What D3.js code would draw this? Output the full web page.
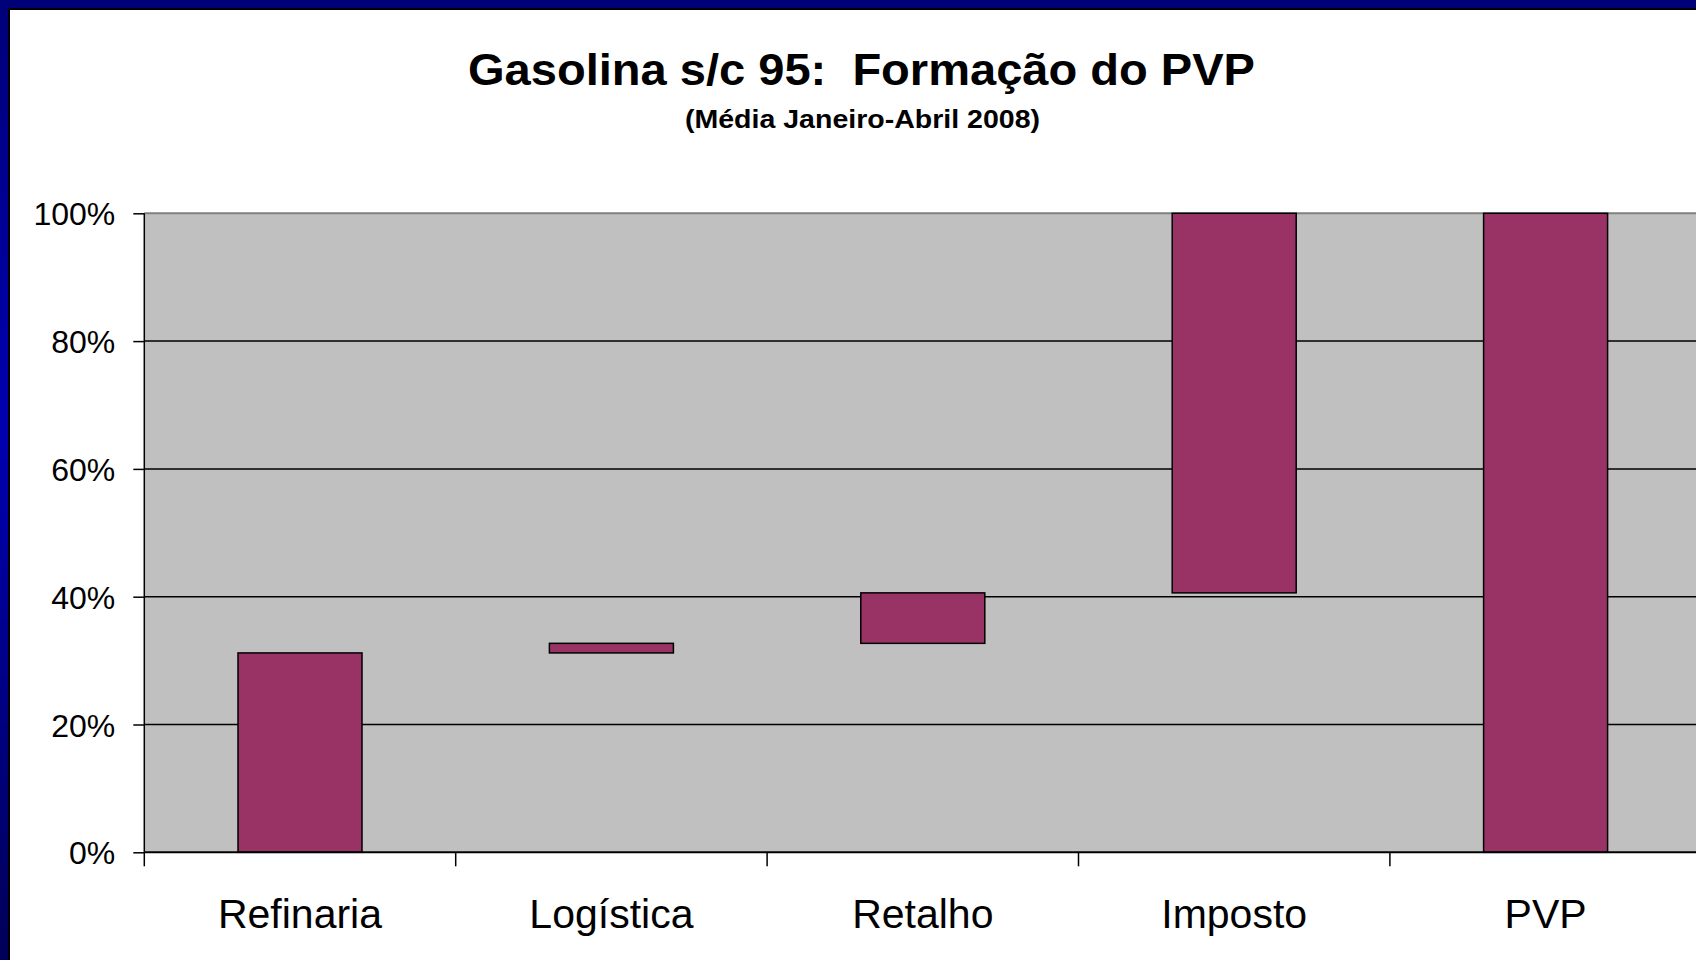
<!DOCTYPE html>
<html>
<head>
<meta charset="utf-8">
<script src="https://cdn.jsdelivr.net/npm/d3@7"></script>
<style>
  html, body { margin: 0; padding: 0; background: #fff; }
  svg { display: block; font-family: "Liberation Sans", Arial, sans-serif; }
  .title { white-space: pre; }
</style>
</head>
<body>
<div class="cont"></div>
<script>
// data
var categories = ["Refinaria", "Logística", "Retalho", "Imposto", "PVP"];
var increments = [0.312, 0.015, 0.079, 0.594];   // parcelas do preço
var totalPVP = 1.0;
var yTicks = [0, 0.2, 0.4, 0.6, 0.8, 1.0];
var titleText = "Gasolina s/c 95:  Formação do PVP";
var subtitleText = "(Média Janeiro-Abril 2008)";

var w = 1696,
  h = 960;

var margin = {left: 144.3, top: 213.3, bottom: 852.3};
var step = 311.4;

// build start/end for every bar (waterfall)
var ends = Array.from(d3.cumsum(increments));
var bars = categories.map(function (c, i) {
  if (i < increments.length) {
    return {cat: c, y0: i == 0 ? 0 : ends[i - 1], y1: ends[i]};
  }
  return {cat: c, y0: 0, y1: totalPVP};
});

var svg = d3.select(".cont").append("svg").
  attr("width", w).
  attr("height", h);

var defs = svg.append("defs");
var grad = defs.append("linearGradient").
  attr("id", "frame").
  attr("x1", 0).attr("y1", 0).attr("x2", 0).attr("y2", 1);
grad.append("stop").attr("offset", "0").attr("stop-color", "#000078");
grad.append("stop").attr("offset", "0.45").attr("stop-color", "#0000b0");
grad.append("stop").attr("offset", "1").attr("stop-color", "#000058");

// blue frame + white slide
svg.append("rect").attr("width", w).attr("height", h).attr("fill", "url(#frame)");
svg.append("rect").
  attr("x", 8).attr("y", 8).
  attr("width", w).attr("height", h).
  attr("fill", "#000");
svg.append("rect").
  attr("x", 10).attr("y", 10).
  attr("width", w).attr("height", h).
  attr("fill", "#fff");

var x = d3.scaleBand().
  domain(categories).
  range([margin.left, margin.left + step * categories.length]).
  padding(0);

var y = d3.scaleLinear().
  domain([0, 1]).
  range([margin.bottom, margin.top]);

// plot area
svg.append("rect").
  attr("x", margin.left).
  attr("y", y(1)).
  attr("width", w - margin.left).
  attr("height", y(0) - y(1)).
  attr("fill", "#c0c0c0");

// gridlines
svg.append("g").
  selectAll("line").
  data(yTicks.filter(function (d) {return d > 0 && d < 1;})).
  enter().append("line").
  attr("x1", margin.left).
  attr("x2", w).
  attr("y1", function (d) {return y(d);}).
  attr("y2", function (d) {return y(d);}).
  attr("stroke", "#000").
  attr("stroke-width", 1.5);

svg.append("line").
  attr("x1", margin.left).attr("x2", w).
  attr("y1", y(1)).attr("y2", y(1)).
  attr("stroke", "#808080").
  attr("stroke-width", 2);

// bars
var barW = 124;
svg.append("g").
  selectAll("rect").
  data(bars).
  enter().append("rect").
  attr("x", function (d) {return x(d.cat) + (x.bandwidth() - barW) / 2;}).
  attr("y", function (d) {return y(d.y1);}).
  attr("width", barW).
  attr("height", function (d) {return y(d.y0) - y(d.y1);}).
  attr("fill", "#993366").
  attr("stroke", "#000").
  attr("stroke-width", 1.5);

// y axis
var yAxis = d3.axisLeft(y).
  tickValues(yTicks).
  tickSize(11).
  tickPadding(18).
  tickFormat(d3.format(".0%"));

var gy = svg.append("g").
  attr("transform", "translate(" + margin.left + ",0)").
  call(yAxis);
gy.select(".domain").
  attr("stroke", "#000").
  attr("stroke-width", 1.5).
  attr("d", "M0," + y(1) + "V" + y(0));
gy.selectAll(".tick line").attr("stroke", "#000").attr("stroke-width", 1.5);
gy.selectAll(".tick text").
  attr("font-size", 32).
  attr("font-family", "Liberation Sans, Arial, sans-serif").
  attr("fill", "#000").
  attr("dy", "0.36em");

// x axis
var gx = svg.append("g").
  attr("transform", "translate(0," + margin.bottom + ")");
gx.append("line").
  attr("x1", margin.left).attr("x2", w).
  attr("y1", 0).attr("y2", 0).
  attr("stroke", "#000").attr("stroke-width", 2);
gx.selectAll("line.tk").
  data(categories).
  enter().append("line").
  attr("class", "tk").
  attr("x1", function (d) {return x(d);}).
  attr("x2", function (d) {return x(d);}).
  attr("y1", 0).attr("y2", 14).
  attr("stroke", "#000").attr("stroke-width", 1.5);
gx.selectAll("text").
  data(categories).
  enter().append("text").
  attr("x", function (d) {return x(d) + x.bandwidth() / 2;}).
  attr("y", 76).
  attr("text-anchor", "middle").
  attr("font-size", 41).
  attr("fill", "#000").
  text(function (d) {return d;});

// titles
svg.append("text").
  attr("class", "title").
  attr("x", 468).
  attr("y", 85).
  attr("font-size", 44).
  attr("font-weight", "bold").
  attr("textLength", 787).
  attr("lengthAdjust", "spacingAndGlyphs").
  text(titleText);

svg.append("text").
  attr("x", 685).
  attr("y", 128).
  attr("font-size", 26).
  attr("font-weight", "bold").
  attr("textLength", 355).
  attr("lengthAdjust", "spacingAndGlyphs").
  text(subtitleText);
</script>
</body>
</html>
